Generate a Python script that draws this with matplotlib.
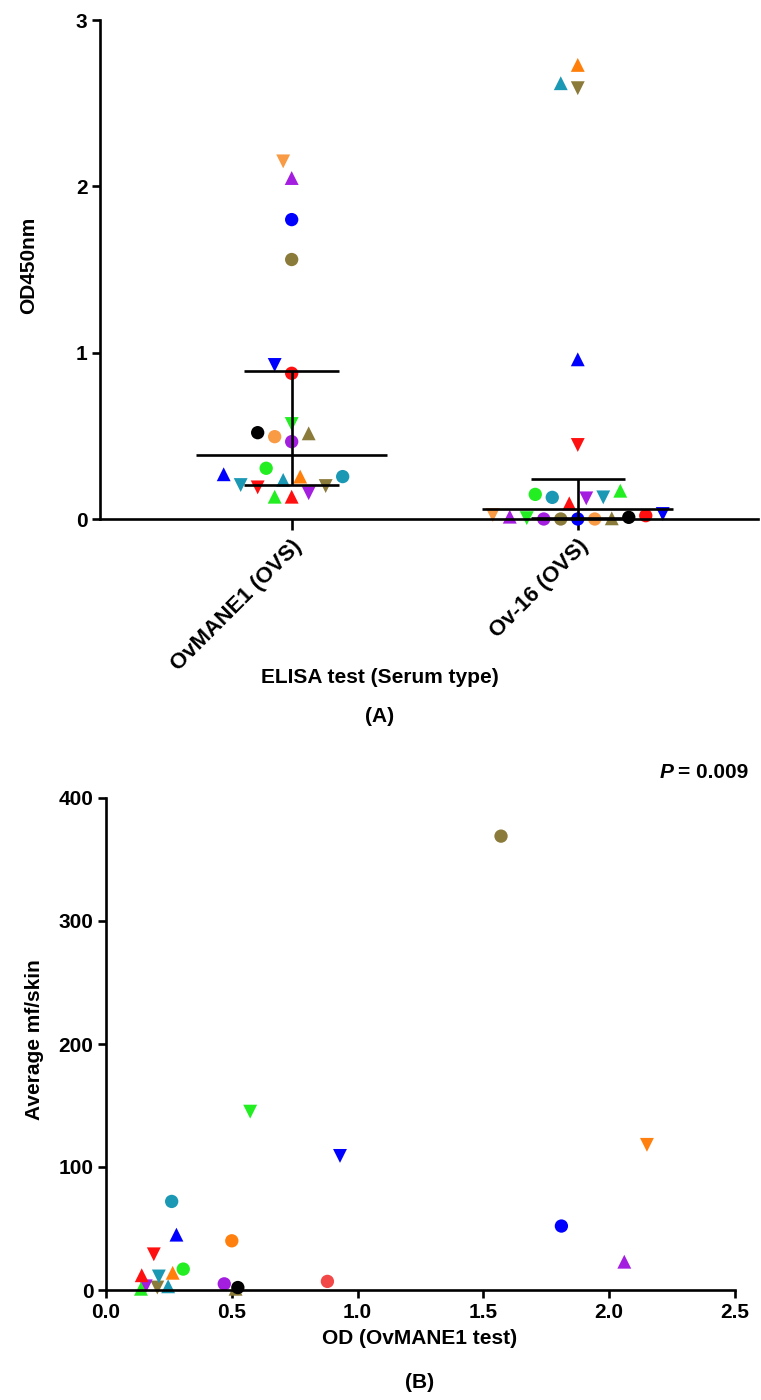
"""Figura de dos paneles: ELISA OvMANE1 vs Ov-16 (A) y correlacion OD vs mf/piel (B)."""

import matplotlib

matplotlib.use("Agg")  # sin ventana, solo PNG
import matplotlib.pyplot as plt
import numpy as np
from matplotlib.ticker import FormatStrFormatter

plt.rcParams["font.family"] = ["Liberation Sans", "DejaVu Sans"]
plt.rcParams["font.weight"] = "bold"

# Un elemento por paciente; el mismo orden en todas las listas.
colores = [
    "#f99a45", "#a41ee0", "#0000ff", "#8b7b3a", "#0000ff", "#ff1010",
    "#22ee22", "#8b7b3a", "#000000", "#f99a45", "#a41ee0", "#22ee22",
    "#ff7f0a", "#1b98b4", "#0000ff", "#1b98b4", "#8b7b3a", "#ff1010",
    "#1b98b4", "#a41ee0", "#ff1010", "#22ee22",
]
# en el panel B algunos tonos salen distintos
colores_b = list(colores)
colores_b[0] = "#ff800e"
colores_b[5] = "#f24848"
colores_b[9] = "#ff800e"

marcadores = [
    "v", "^", "o", "o", "v", "o",
    "v", "^", "o", "o", "o", "o",
    "^", "o", "^", "^", "v", "v",
    "v", "v", "^", "^",
]
od_ovmane1 = [
    2.15, 2.05, 1.80, 1.56, 0.926, 0.876,
    0.571, 0.515, 0.519, 0.495, 0.465, 0.305,
    0.255, 0.255, 0.269, 0.235, 0.198, 0.190,
    0.204, 0.155, 0.134, 0.134,
]
od_ov16 = [
    0.024, 0.014, 0.0, 0.0, 0.030, 0.020,
    0.005, 0.004, 0.010, 0.0, 0.0, 0.148,
    2.73, 0.130, 0.96, 2.62, 2.59, 0.445,
    0.130, 0.124, 0.094, 0.170,
]
# panel B: OD OvMANE1 del mismo paciente frente a su carga de microfilarias
od_b = [
    2.15, 2.06, 1.81, 1.57, 0.93, 0.88,
    0.573, 0.515, 0.524, 0.50, 0.47, 0.307,
    0.265, 0.261, 0.28, 0.247, 0.204, 0.19,
    0.21, 0.158, 0.142, 0.139,
]
mf_piel = [
    118, 23, 52, 369, 109, 7,
    145, 1, 2, 40, 5, 17,
    14, 72, 45, 3, 2, 29,
    11, 3, 12, 1,
]

categorias = ["OvMANE1 (OVS)", "Ov-16 (OVS)"]
ticks_a = [0, 1, 2, 3]
ticks_b_x = [0.0, 0.5, 1.0, 1.5, 2.0, 2.5]
ticks_b_y = [0, 100, 200, 300, 400]
valor_p = "0.009"

ANCHO, ALTO = 761, 1400
LW = 1.9
FS = 15


def posiciones_enjambre(ax, x0, valores, diametro_px):
    """Reparte los puntos alrededor de x0 en pasos de medio diametro sin solaparlos."""
    tr = ax.transData
    cx = tr.transform((x0, 0))[0]
    ys = [tr.transform((x0, v))[1] for v in valores]
    paso = diametro_px / 2
    candidatos = sorted(range(-20, 21), key=lambda k: (abs(k), k))
    colocados = []
    desplaz = np.zeros(len(valores))
    for i in np.argsort(valores, kind="stable"):
        y = ys[i]
        for k in candidatos:
            c = k * paso
            if all((c - xp) ** 2 + (y - yp) ** 2 >= diametro_px ** 2 - 1e-6
                   for xp, yp in colocados):
                break
        desplaz[i] = c
        colocados.append((c, y))
    inv = tr.inverted()
    return [inv.transform((cx + desplaz[i], ys[i]))[0] for i in range(len(valores))]


def estilo_ejes(ax):
    for lado in ("top", "right"):
        ax.spines[lado].set_visible(False)
    for lado in ("left", "bottom"):
        ax.spines[lado].set_linewidth(LW)
    ax.tick_params(width=LW, length=6, labelsize=FS, pad=3)


def tam(m):
    return 100 if m != "o" else 92


fig = plt.figure(figsize=(ANCHO / 100, ALTO / 100), dpi=100)

# ---------------- Panel A ----------------
ax_a = fig.add_axes([100 / ANCHO, 1 - 519 / ALTO, 658 / ANCHO, 499 / ALTO])
ax_a.set_xlim(-0.67, 1.63)
ax_a.set_ylim(0, 3)
estilo_ejes(ax_a)
ax_a.set_yticks(ticks_a)
ax_a.set_xticks(range(len(categorias)))
ax_a.set_xticklabels(categorias, rotation=45, ha="right", va="top",
                     rotation_mode="anchor", fontsize=16, fontweight="bold")
ax_a.tick_params(axis="x", length=8, pad=4)

for pos, valores in enumerate([od_ovmane1, od_ov16]):
    xs = posiciones_enjambre(ax_a, pos, valores, 17.0)
    for x, y, c, m in zip(xs, valores, colores, marcadores):
        ax_a.scatter(x, y, s=tam(m), marker=m, color=c,
                     edgecolors="none", zorder=2, clip_on=False)
    q1, med, q3 = np.percentile(valores, [25, 50, 75], method="weibull")
    ax_a.hlines(med, pos - 0.333, pos + 0.333, color="black", lw=LW, zorder=3)
    ax_a.vlines(pos, q1, q3, color="black", lw=LW, zorder=3)
    ax_a.hlines([q1, q3], pos - 0.165, pos + 0.165, color="black", lw=LW, zorder=3)

fig.text(29 / ANCHO, 1 - 265 / ALTO, "OD450nm", rotation=90, ha="center",
         va="center", fontsize=FS, fontweight="bold")
fig.text(380 / ANCHO, 1 - 678 / ALTO, "ELISA test (Serum type)", ha="center",
         va="center", fontsize=FS, fontweight="bold")
fig.text(380 / ANCHO, 1 - 717 / ALTO, "(A)", ha="center", va="center",
         fontsize=FS, fontweight="bold")

# ---------------- Panel B ----------------
ax_b = fig.add_axes([106 / ANCHO, 1 - 1290 / ALTO, 629 / ANCHO, 492 / ALTO])
ax_b.set_xlim(0, 2.5)
ax_b.set_ylim(0, 400)
estilo_ejes(ax_b)
ax_b.set_xticks(ticks_b_x)
ax_b.set_yticks(ticks_b_y)
ax_b.xaxis.set_major_formatter(FormatStrFormatter("%.1f"))

for x, y, c, m in zip(od_b, mf_piel, colores_b, marcadores):
    ax_b.scatter(x, y, s=tam(m), marker=m, color=c,
                 edgecolors="none", zorder=2, clip_on=False)

fig.text(35 / ANCHO, 1 - 1040 / ALTO, "Average mf/skin", rotation=90,
         ha="center", va="center", fontsize=FS, fontweight="bold")
fig.text(420 / ANCHO, 1 - 1338 / ALTO, "OD (OvMANE1 test)", ha="center",
         va="center", fontsize=FS, fontweight="bold")
fig.text(420 / ANCHO, 1 - 1382 / ALTO, "(B)", ha="center", va="center",
         fontsize=FS, fontweight="bold")

# P en cursiva delante del valor
renderer = fig.canvas.get_renderer()
t_p = fig.text(748 / ANCHO, 1 - 773 / ALTO, f"= {valor_p}", ha="right",
               va="center", fontsize=FS, fontweight="bold")
bb = t_p.get_window_extent(renderer)
fig.text((bb.x0 - 4) / ANCHO, 1 - 773 / ALTO, "P", ha="right", va="center",
         fontsize=FS, fontweight="bold", style="italic")

fig.savefig("out.png", dpi=100)
plt.close(fig)
